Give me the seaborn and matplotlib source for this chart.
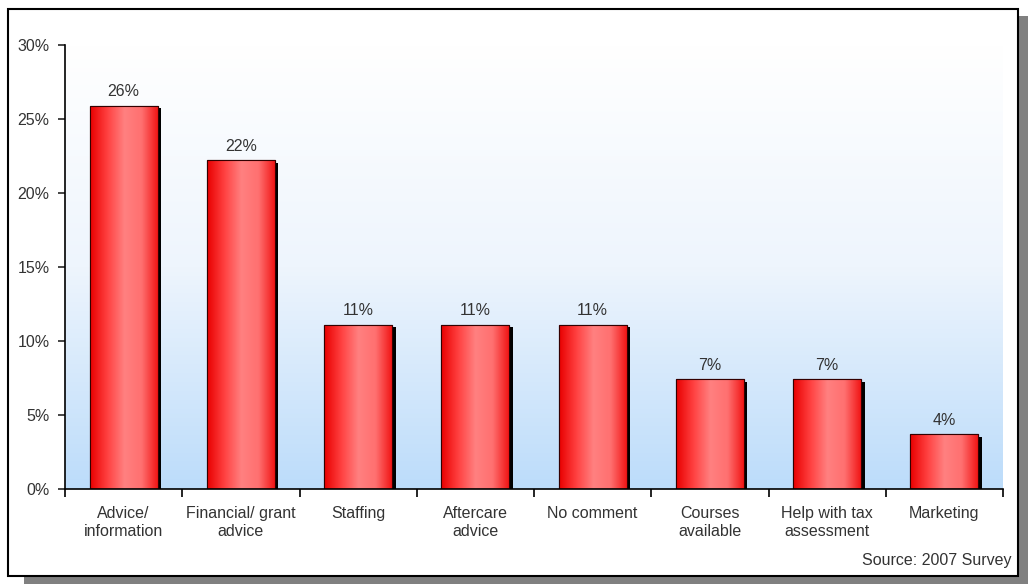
import numpy as np
import pandas as pd
import matplotlib
matplotlib.use("Agg")
import matplotlib.pyplot as plt
import matplotlib.patheffects as pe
from matplotlib.colors import LinearSegmentedColormap
from matplotlib.patches import Rectangle
import seaborn as sns

# data (share of respondents, %)
categories = ["Advice/\ninformation", "Financial/ grant\nadvice", "Staffing",
              "Aftercare\nadvice", "No comment", "Courses\navailable",
              "Help with tax\nassessment", "Marketing"]
values = [25.9, 22.2, 11.1, 11.1, 11.1, 7.4, 7.4, 3.7]
value_labels = ["26%", "22%", "11%", "11%", "11%", "7%", "7%", "4%"]
y_ticks = [0, 5, 10, 15, 20, 25, 30]

df = pd.DataFrame({"category": categories, "value": values})

sns.set_style("white")
plt.rcParams["font.family"] = ["Liberation Sans", "DejaVu Sans"]

W, H = 1028, 584
fig = plt.figure(figsize=(W / 100, H / 100), dpi=100)

# outer frame with drop shadow (behind the axes)
fig.patches.append(Rectangle((24 / W, 0), 1 - 24 / W, 1 - 16 / H,
                             transform=fig.transFigure, facecolor="#808080",
                             edgecolor="none", zorder=-2))
fig.patches.append(Rectangle((8 / W, 8 / H), 1010 / W, 567 / H,
                             transform=fig.transFigure, facecolor="white",
                             edgecolor="black", linewidth=1.5, zorder=-1))

ax = fig.add_axes([65 / W, 1 - 489 / H, (1003 - 65) / W, (489 - 45) / H])
ax.set_facecolor("none")

sns.barplot(data=df, x="category", y="value", ax=ax, color="red",
            width=0.58, edgecolor="#330000", linewidth=0.8, zorder=3)

n = len(categories)

# background gradient white (top) -> light blue (bottom)
bg = LinearSegmentedColormap.from_list("bg", ["#ffffff", "#eef5fd", "#bcdcfa"])
ax.imshow(np.linspace(0, 1, 256).reshape(-1, 1), cmap=bg, aspect="auto",
          extent=(-0.5, n - 0.5, 0, 30), origin="upper", zorder=0)

# cylindrical shading on the bars
bar_cmap = LinearSegmentedColormap.from_list(
    "bar", ["#e80000", "#ff4040", "#ff8080", "#ff7070", "#f01010"])
grad = np.linspace(0, 1, 256).reshape(1, -1)
for p, lab in zip(list(ax.patches), value_labels):
    p.set_path_effects([pe.SimplePatchShadow(offset=(2.5, -2), shadow_rgbFace="black",
                                             alpha=1.0), pe.Normal()])
    x0, y0 = p.get_x(), p.get_y()
    w, h = p.get_width(), p.get_height()
    im = ax.imshow(grad, cmap=bar_cmap, aspect="auto",
                   extent=(x0, x0 + w, y0, y0 + h), zorder=4)
    im.set_clip_path(p)
    outline = Rectangle((x0, y0), w, h, facecolor="none", edgecolor="#330000",
                        linewidth=0.8, zorder=5)
    ax.add_patch(outline)
    ax.text(x0 + w / 2, y0 + h + 0.45, lab, ha="center", va="bottom",
            fontsize=11.5, color="#333333")

ax.set_xlim(-0.5, n - 0.5)
ax.set_ylim(0, 30)

for s in ["top", "right"]:
    ax.spines[s].set_visible(False)
for s in ["left", "bottom"]:
    ax.spines[s].set_color("black")
    ax.spines[s].set_linewidth(1.2)
    ax.spines[s].set_zorder(6)

ax.set_yticks(y_ticks)
ax.set_yticklabels([f"{t}%" for t in y_ticks])
ax.set_xticks(range(n))
ax.set_xticklabels(categories, linespacing=1.3)
ax.set_xticks(np.arange(-0.5, n), minor=True)
ax.tick_params(axis="x", which="major", length=0, pad=12, labelsize=11.5,
               labelcolor="#333333")
ax.tick_params(axis="x", which="minor", length=6, width=1.2, direction="out",
               color="black", bottom=True)
ax.tick_params(axis="y", length=5, width=1.2, direction="out", left=True,
               labelsize=11.5, labelcolor="#333333", pad=6)
ax.set_xlabel("")
ax.set_ylabel("")

fig.text(1012 / W, 1 - 560 / H, "Source: 2007 Survey", ha="right", va="center",
         fontsize=11.5, color="#333333")

fig.savefig("out.png", dpi=100)
